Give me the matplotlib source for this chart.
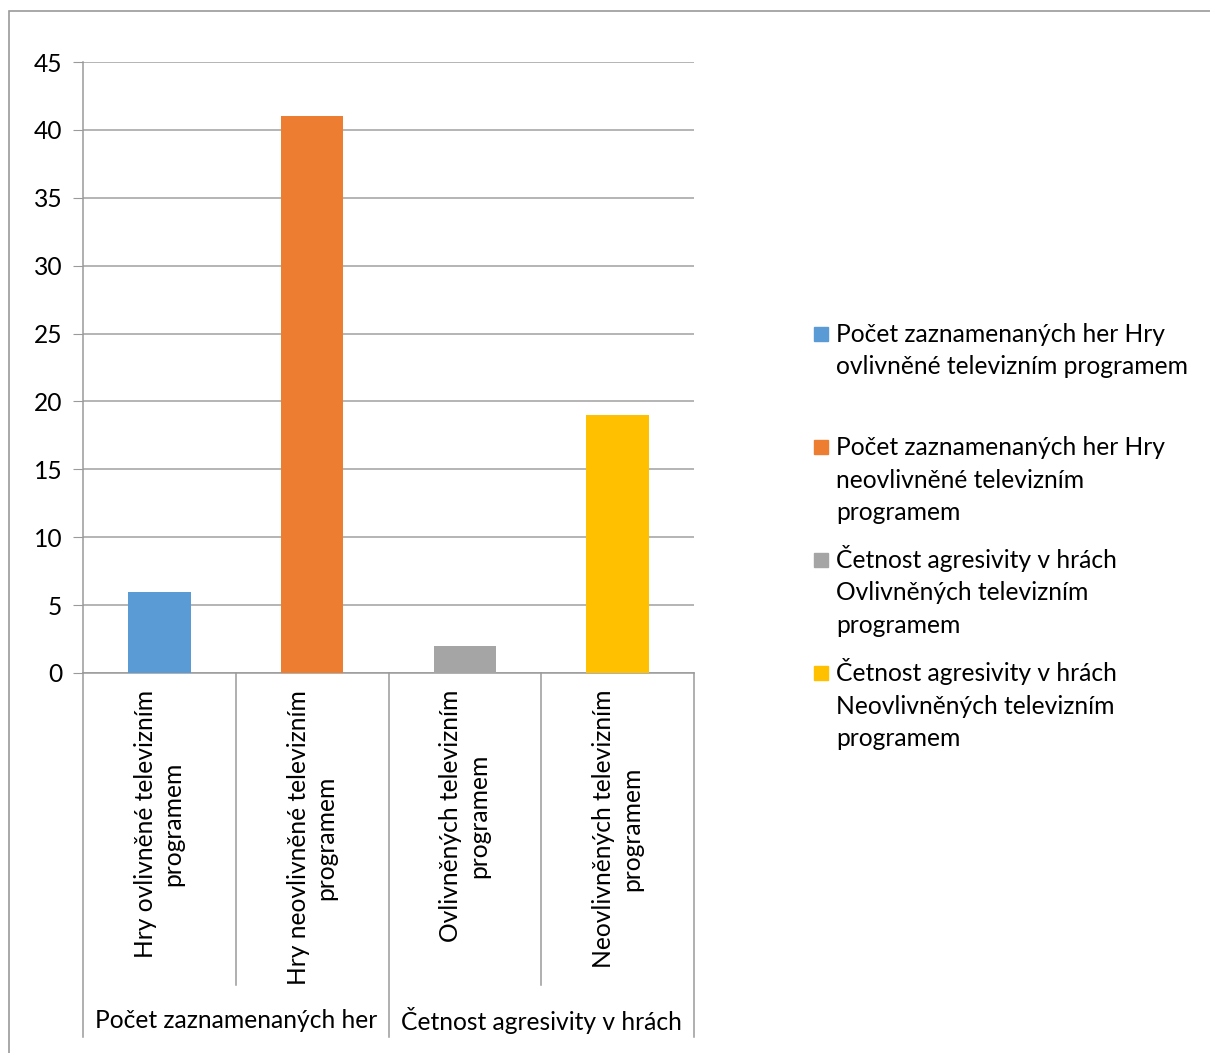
import matplotlib.pyplot as plt
from matplotlib.patches import Rectangle

# --- data ---
groups = ['Počet zaznamenaných her', 'Četnost agresivity v hrách']
categories = ['Hry ovlivněné televizním\nprogramem',
              'Hry neovlivněné televizním\nprogramem',
              'Ovlivněných televizním\nprogramem',
              'Neovlivněných televizním\nprogramem']
values = [6, 41, 2, 19]
colors = ['#5B9BD5', '#ED7D31', '#A5A5A5', '#FFC000']
legend_labels = ['Počet zaznamenaných her Hry\novlivněné televizním programem',
                 'Počet zaznamenaných her Hry\nneovlivněné televizním\nprogramem',
                 'Četnost agresivity v hrách\nOvlivněných televizním\nprogramem',
                 'Četnost agresivity v hrách\nNeovlivněných televizním\nprogramem']
yticks = [0, 5, 10, 15, 20, 25, 30, 35, 40, 45]

plt.rcParams['font.family'] = ['Lato', 'DejaVu Sans']
FS = 17.7
W, H = 1210, 1053

fig = plt.figure(figsize=(W / 100, H / 100), dpi=100)


def px(x, y):
    return x / W, 1 - y / H


# outer chart border
fig.add_artist(Rectangle(px(9, 1060), (1220 - 9) / W, (1060 - 11) / H,
                         transform=fig.transFigure, fill=False,
                         edgecolor='#9A9A9A', linewidth=1.2))

l, b = px(83, 673)
r, t = px(694, 62)
ax = fig.add_axes([l, b, r - l, t - b])

x = range(len(values))
ax.bar(x, values, width=0.41, color=colors, zorder=3)

ax.set_xlim(-0.5, len(values) - 0.5)
ax.set_ylim(0, 45)
ax.set_yticks(yticks)
ax.tick_params(axis='y', labelsize=FS, length=7, color='#9A9A9A', pad=8)
ax.set_xticks([])
ax.grid(axis='y', color='#A0A0A0', linewidth=1.1, zorder=0)
for s in ['top', 'right']:
    ax.spines[s].set_visible(False)
ax.spines['left'].set_color('#9A9A9A')
ax.spines['bottom'].set_color('#9A9A9A')
ax.spines['left'].set_linewidth(1.1)
ax.spines['bottom'].set_linewidth(1.1)

# multi-level category axis
tr = ax.get_xaxis_transform()
inner_bottom = (673 - 985) / 611
outer_bottom = (673 - 1037) / 611
for xb in [-0.5, 1.5, 3.5]:
    ax.plot([xb, xb], [0, outer_bottom], transform=tr, clip_on=False,
            color='#9A9A9A', linewidth=1.1)
for xb in [0.5, 2.5]:
    ax.plot([xb, xb], [0, inner_bottom], transform=tr, clip_on=False,
            color='#9A9A9A', linewidth=1.1)

for i, lab in enumerate(categories):
    ax.text(i, (673 - 690) / 611, lab, transform=tr, rotation=90,
            ha='center', va='top', multialignment='center', fontsize=FS,
            linespacing=1.25)

for g, lab in enumerate(groups):
    ax.text(2 * g + 0.5, (673 - 1021) / 611, lab, transform=tr,
            ha='center', va='center', fontsize=FS)

# legend
for i, (lab, c) in enumerate(zip(legend_labels, colors)):
    sx, sy = px(814, 341 + 113 * i)
    fig.add_artist(Rectangle((sx, sy), 14 / W, 14 / H,
                             transform=fig.transFigure, color=c))
    for k, line in enumerate(lab.split('\n')):
        tx, ty = px(836, 342 + 113 * i + 32.5 * k)
        fig.text(tx, ty, line, ha='left', va='baseline', fontsize=FS)

fig.savefig('out.png', dpi=100)
